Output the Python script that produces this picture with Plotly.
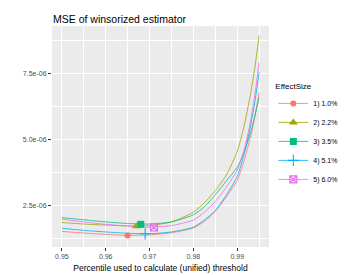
import numpy as np
import plotly.graph_objects as go

# Percentile thresholds
percentiles = [0.95, 0.955, 0.96, 0.965, 0.97, 0.975, 0.98, 0.9825, 0.985,
               0.9875, 0.99, 0.9915, 0.993, 0.994, 0.995]

# MSE values (units of 1e-06)
mse_1_0 = [1.52, 1.46, 1.41, 1.37, 1.39, 1.47, 1.65, 1.90, 2.28, 2.83, 3.45, 4.16, 5.08, 5.86, 6.78]
mse_2_2 = [1.86, 1.80, 1.76, 1.73, 1.74, 1.88, 2.25, 2.60, 3.07, 3.65, 4.55, 5.46, 6.68, 7.70, 8.94]
mse_3_5 = [2.04, 1.96, 1.88, 1.82, 1.80, 1.88, 2.15, 2.45, 2.91, 3.43, 3.95, 4.49, 5.25, 5.87, 6.60]
mse_5_1 = [1.64, 1.56, 1.50, 1.45, 1.43, 1.50, 1.68, 1.95, 2.31, 2.89, 3.60, 4.40, 5.48, 6.40, 7.54]
mse_6_0 = [1.98, 1.88, 1.79, 1.72, 1.68, 1.74, 1.95, 2.25, 2.65, 3.19, 3.85, 4.55, 5.66, 6.67, 7.92]

# Optimal (minimum) points
opt_x = [0.965, 0.967, 0.968, 0.969, 0.971]
opt_y = [1.37, 1.72, 1.79, 1.43, 1.67]

series_names = ["1) 1.0%", "2) 2.2%", "3) 3.5%", "4) 5.1%", "5) 6.0%"]
series_vals = [mse_1_0, mse_2_2, mse_3_5, mse_5_1, mse_6_0]
colors = ["#F8766D", "#A3A500", "#00BF7D", "#00B0F6", "#E76BF3"]
symbols = ["circle", "triangle-up", "square", "cross-thin-open", "square-x-open"]
msizes = [6, 8, 7, 8, 7]

y_ticks = [2.5, 5.0, 7.5]
y_ticktext = ["2.5e-06", "5.0e-06", "7.5e-06"]
x_ticks = [0.95, 0.96, 0.97, 0.98, 0.99]
x_ticktext = ["0.95", "0.96", "0.97", "0.98", "0.99"]

SCALE = 1e-6

fig = go.Figure()
for name, vals, c in zip(series_names, series_vals, colors):
    fig.add_trace(go.Scatter(
        x=percentiles, y=np.array(vals) * SCALE, mode="lines",
        line=dict(color=c, width=0.8, shape="spline", smoothing=0.6),
        showlegend=False, legendgroup=name, hoverinfo="skip"))

for i, name in enumerate(series_names):
    fig.add_trace(go.Scatter(
        x=[opt_x[i]], y=[opt_y[i] * SCALE], mode="lines+markers", name=name,
        legendgroup=name,
        line=dict(color=colors[i], width=0.8),
        marker=dict(color=colors[i], symbol=symbols[i], size=msizes[i],
                    line=dict(color=colors[i], width=1.1 if "open" in symbols[i] else 0))))

grid = "#FFFFFF"
fig.update_layout(
    width=347, height=275,
    margin=dict(l=44, r=64, t=18, b=26),
    paper_bgcolor="white", plot_bgcolor="#EBEBEB",
    font=dict(family="Liberation Sans, Arial, sans-serif", color="#000000"),
    title=dict(text="MSE of winsorized estimator", x=45/347, xanchor="left",
               y=1 - 11/275, yanchor="middle",
               font=dict(size=10.5, color="#000000")),
    xaxis=dict(range=[0.94775, 0.99725], tickvals=x_ticks, ticktext=x_ticktext,
               showgrid=True, gridcolor=grid, gridwidth=1.1, zeroline=False,
               ticks="outside", ticklen=3, tickcolor="#333333", tickwidth=0.8,
               tickfont=dict(size=7, color="#4D4D4D"),
               minor=dict(tickvals=[0.955, 0.965, 0.975, 0.985, 0.995],
                          showgrid=True, gridcolor=grid, gridwidth=0.5, ticks=""),
               title=dict(text="Percentile used to calculate (unified) threshold",
                          font=dict(size=8.5, color="#000000"), standoff=5)),
    yaxis=dict(range=[0.93e-6, 9.30e-6], tickvals=np.array(y_ticks) * SCALE,
               ticktext=y_ticktext,
               showgrid=True, gridcolor=grid, gridwidth=1.1, zeroline=False,
               ticks="outside", ticklen=3, tickcolor="#333333", tickwidth=0.8,
               tickfont=dict(size=7, color="#4D4D4D"),
               minor=dict(tickvals=np.array([1.25, 3.75, 6.25, 8.75]) * SCALE,
                          showgrid=True, gridcolor=grid, gridwidth=0.5, ticks="")),
    legend=dict(x=1.02, xanchor="left", y=0.5, yanchor="middle",
                bgcolor="rgba(0,0,0,0)", font=dict(size=7, color="#000000"),
                title=dict(text="EffectSize", font=dict(size=8, color="#000000")),
                itemwidth=30, tracegroupgap=0),
)

fig.write_html("out.html")
